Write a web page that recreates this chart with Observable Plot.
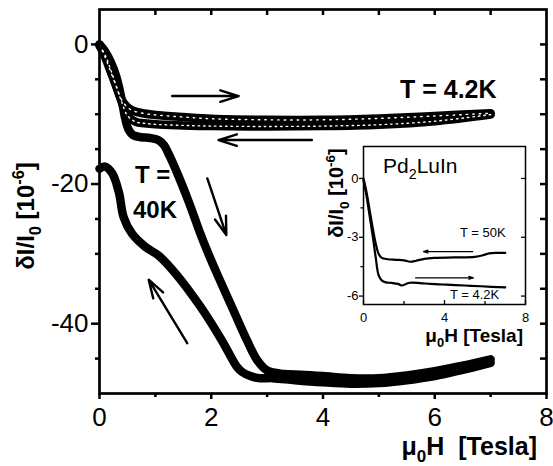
<!DOCTYPE html>
<html><head><meta charset="utf-8">
<script src="https://cdn.jsdelivr.net/npm/d3@7"></script>
<script src="https://cdn.jsdelivr.net/npm/@observablehq/plot@0.6"></script>
<style>
body{margin:0;background:#fff;}
#wrap{position:relative;width:553px;height:466px;overflow:hidden;}
#wrap svg{position:absolute;left:0;top:0;}
</style></head><body><div id="wrap"></div>
<script>
const FONT = "'Liberation Sans', Arial, Helvetica, sans-serif";

// ---- main panel ----
const xTicksMain = [0, 2, 4, 6, 8];
const xMinorMain = [1, 3, 5, 7];
const xTopMain = [1, 2, 3, 4, 5, 6, 7];
const yTicksMain = [0, -20, -40];
const yMinorMain = [-5, -10, -15, -25, -30, -35, -45];
const yRightMain = [0, -5, -10, -15, -20, -25, -30, -35, -40, -45];

// T = 4.2K, increasing field (upper branch)
const x42u = [0, 0.1, 0.2, 0.3, 0.4, 0.5, 0.6, 0.8, 1.0, 1.5, 2, 3, 4, 5, 6, 7];
const y42u = [0, -1.8, -3.9, -6.0, -8.0, -9.0, -9.5, -9.9, -10.1, -10.4, -10.65, -10.8, -10.8, -10.6, -10.25, -9.85];
// T = 4.2K, decreasing field (lower branch)
const x42d = [7, 6, 5, 4, 3, 2, 1.5, 1.0, 0.8, 0.65, 0.5, 0.4, 0.3, 0.2, 0.1, 0];
const y42d = [-10.05, -11.0, -11.5, -11.7, -11.75, -11.7, -11.6, -11.45, -11.3, -11.1, -10.2, -8.3, -6.0, -3.6, -1.5, -0.2];
// T = 40K, increasing field
const x40u = [0, 0.1, 0.2, 0.3, 0.4, 0.46, 0.52, 0.6, 0.75, 0.9, 1.05, 1.15, 1.25, 1.4, 1.6, 1.8, 1.95, 2.1, 2.37, 2.64, 2.82, 3.0, 3.3, 3.6, 4.0, 4.5, 5.0, 5.5, 6.0, 6.5, 7.0];
const y40u = [0, -1.0, -2.5, -4.6, -8.0, -10.6, -12.2, -13.0, -13.3, -13.4, -13.7, -14.4, -15.9, -18.6, -22.6, -27.0, -30.0, -32.8, -37.6, -42.4, -45.2, -46.7, -47.2, -47.3, -47.5, -47.8, -47.8, -47.4, -46.8, -46.0, -45.1];
// T = 40K, decreasing field
const x40d = [7.0, 6.5, 6.0, 5.5, 5.0, 4.5, 4.0, 3.5, 3.1, 2.85, 2.7, 2.55, 2.46, 2.19, 1.81, 1.36, 1.05, 0.82, 0.58, 0.43, 0.35, 0.23, 0.1, 0];
const y40d = [-45.6, -46.6, -47.5, -48.1, -48.5, -48.6, -48.4, -48.1, -47.8, -47.8, -47.5, -46.9, -46.2, -42.4, -37.6, -32.8, -30.2, -29.0, -27.1, -24.7, -21.3, -18.5, -17.5, -17.8];

// sweep-direction arrows (x1, y1 -> x2, y2)
const arrX1 = [1.3, 3.8, 1.93, 1.57];
const arrY1 = [-7.4, -13.7, -19.2, -42.8];
const arrX2 = [2.49, 2.13, 2.27, 0.88];
const arrY2 = [-7.4, -13.7, -27.3, -33.7];

// ---- inset ----
const xTicksIn = [0, 4, 8];
const xMinorIn = [2, 6];
const yTicksIn = [0, -3, -6];
const yMinorIn = [-1.5, -4.5];
const x50 = [0, 0.15, 0.3, 0.45, 0.6, 0.75, 0.9, 1.2, 1.6, 2.0, 2.3, 2.6, 3.0, 3.5, 4.5, 5.5, 5.9, 6.2, 6.6, 7.0];
const y50 = [0, -0.7, -1.6, -2.5, -3.3, -3.85, -4.05, -4.12, -4.15, -4.18, -4.25, -4.2, -4.1, -4.05, -4.03, -4.0, -3.92, -3.82, -3.8, -3.8];
const x4 = [0, 0.15, 0.3, 0.45, 0.6, 0.75, 0.9, 1.1, 1.4, 1.7, 1.9, 2.1, 2.3, 2.8, 3.3, 4.1, 5.0, 5.8, 7.0];
const y4 = [-0.1, -0.9, -1.9, -2.9, -4.0, -4.95, -5.2, -5.3, -5.33, -5.38, -5.46, -5.38, -5.32, -5.34, -5.38, -5.42, -5.46, -5.5, -5.56];
const inArrX1 = [5.4, 2.57];
const inArrY1 = [-3.73, -5.07];
const inArrX2 = [2.96, 5.43];
const inArrY2 = [-3.73, -5.07];

const zip = (xs, ys) => xs.map((x, i) => ({x, y: ys[i]}));
const arrows = (a, b, c, d) => a.map((_, i) => ({x1: a[i], y1: b[i], x2: c[i], y2: d[i]}));

const W = 553, H = 466;
// main geometry
const mL = 99, mR = 7, mT = 9, mB = 73;
const pW = W - mL - mR, pH = H - mT - mB;

const lineOpts = {x: "x", y: "y", curve: "catmull-rom", strokeLinejoin: "round", strokeLinecap: "round", stroke: "#000"};

const main = Plot.plot({
  width: W, height: H,
  marginLeft: mL, marginRight: mR, marginTop: mT, marginBottom: mB,
  x: {domain: [0, 8]},
  y: {domain: [-50, 5]},
  style: {fontFamily: FONT, background: "transparent", color: "#000", overflow: "visible"},
  marks: [
    Plot.line(zip(x40d, y40d), {...lineOpts, strokeWidth: 8.5}),
    Plot.line(zip(x40u, y40u), {...lineOpts, strokeWidth: 8.5}),
    Plot.line(zip(x42u, y42u), {...lineOpts, strokeWidth: 8.5}),
    Plot.line(zip(x42d, y42d), {...lineOpts, strokeWidth: 8.5}),
    Plot.line(zip(x42u, y42u), {...lineOpts, stroke: "#fff", strokeWidth: 1.4, strokeDasharray: "1.5 5"}),
    Plot.line(zip(x42d, y42d), {...lineOpts, stroke: "#fff", strokeWidth: 1.4, strokeDasharray: "1.5 4"}),
    Plot.arrow(arrows(arrX1, arrY1, arrX2, arrY2), {x1: "x1", y1: "y1", x2: "x2", y2: "y2", strokeWidth: 2.4, headLength: 12, headAngle: 35, stroke: "#000"}),
    // ticks
    Plot.tickX(xTicksMain, {x: d => d, insetTop: pH, insetBottom: -6, strokeWidth: 2.5}),
    Plot.tickX(xMinorMain, {x: d => d, insetTop: pH, insetBottom: -4, strokeWidth: 2.5}),
    Plot.tickX(xTopMain, {x: d => d, insetTop: 0, insetBottom: pH - 6, strokeWidth: 2.5}),
    Plot.tickY(yTicksMain, {y: d => d, insetLeft: -8, insetRight: pW, strokeWidth: 2.5}),
    Plot.tickY(yMinorMain, {y: d => d, insetLeft: -4, insetRight: pW, strokeWidth: 2.5}),
    Plot.tickY(yRightMain, {y: d => d, insetLeft: pW - 6, insetRight: 0, strokeWidth: 2.5}),
    Plot.axisX({ticks: xTicksMain, anchor: "bottom", tickSize: 0, tickPadding: 14, fontSize: 26, tickFormat: d => String(d), label: null}),
    Plot.axisY({ticks: yTicksMain, anchor: "left", tickSize: 0, tickPadding: 11, fontSize: 26, tickFormat: d => String(d), label: null}),
    Plot.frame({strokeWidth: 2.7, stroke: "#000"})
  ]
});

// inset geometry
const iL = 363, iR = W - 525, iT = 146, iB = H - 304;
const iW = W - iL - iR, iH = H - iT - iB;

const inset = Plot.plot({
  width: W, height: H,
  marginLeft: iL, marginRight: iR, marginTop: iT, marginBottom: iB,
  x: {domain: [0, 8]},
  y: {domain: [-6.43, 1.63]},
  style: {fontFamily: FONT, background: "transparent", color: "#000", overflow: "visible"},
  marks: [
    Plot.line(zip(x50, y50), {...lineOpts, strokeWidth: 2.2}),
    Plot.line(zip(x4, y4), {...lineOpts, strokeWidth: 2.2}),
    Plot.arrow(arrows(inArrX1, inArrY1, inArrX2, inArrY2), {x1: "x1", y1: "y1", x2: "x2", y2: "y2", strokeWidth: 1.2, headLength: 6, headAngle: 35, stroke: "#000"}),
    Plot.tickX(xTicksIn, {x: d => d, insetTop: iH - 4, insetBottom: 0, strokeWidth: 1.3}),
    Plot.tickX(xMinorIn, {x: d => d, insetTop: iH - 3, insetBottom: 0, strokeWidth: 1.3}),
    Plot.tickY(yTicksIn, {y: d => d, insetLeft: -4, insetRight: iW, strokeWidth: 1.3}),
    Plot.tickY(yMinorIn, {y: d => d, insetLeft: -2.5, insetRight: iW, strokeWidth: 1.3}),
    Plot.tickY(yTicksIn, {y: d => d, insetLeft: iW - 4, insetRight: 0, strokeWidth: 1.3}),
    Plot.axisX({ticks: xTicksIn, anchor: "bottom", tickSize: 0, tickPadding: 8, fontSize: 13, tickFormat: d => String(d), label: null}),
    Plot.axisY({ticks: yTicksIn, anchor: "left", tickSize: 0, tickPadding: 5, fontSize: 13, tickFormat: d => String(d), label: null}),
    Plot.frame({strokeWidth: 1.5, stroke: "#000"})
  ]
});

const wrap = document.getElementById("wrap");
wrap.append(main, inset);

function rich(svg, {x, y, rotate = 0, size, weight = "normal", anchor = "start", parts}) {
  const t = d3.select(svg).append("text")
    .attr("transform", `translate(${x},${y}) rotate(${rotate})`)
    .attr("text-anchor", anchor)
    .attr("font-size", size)
    .attr("font-weight", weight)
    .attr("font-family", FONT)
    .attr("fill", "#000");
  let shift = 0;
  for (const [s, kind] of parts) {
    const target = kind === "sub" ? size * 0.28 : kind === "sup" ? -size * 0.42 : 0;
    const span = t.append("tspan").text(s).attr("dy", target - shift);
    if (kind !== "n") span.attr("font-size", size * 0.68);
    shift = target;
  }
}

// main labels
rich(main, {x: 34, y: 216, rotate: -90, size: 24, weight: "bold", anchor: "middle",
  parts: [["δI/I", "n"], ["0", "sub"], [" [10", "n"], ["-6", "sup"], ["]", "n"]]});
rich(main, {x: 537, y: 455, size: 25, weight: "bold", anchor: "end",
  parts: [["μ", "n"], ["0", "sub"], ["H\u00a0\u00a0[Tesla]", "n"]]});
rich(main, {x: 400, y: 98, size: 25, weight: "bold", parts: [["T = 4.2K", "n"]]});
rich(main, {x: 135, y: 183, size: 24, weight: "bold", parts: [["T =", "n"]]});
rich(main, {x: 133, y: 218, size: 24, weight: "bold", parts: [["40K", "n"]]});

// inset labels
rich(inset, {x: 343, y: 193, rotate: -90, size: 20, weight: "bold", anchor: "middle",
  parts: [["δI/I", "n"], ["0", "sub"], [" [10", "n"], ["-6", "sup"], ["]", "n"]]});
rich(inset, {x: 523, y: 342, size: 19, weight: "bold", anchor: "end",
  parts: [["μ", "n"], ["0", "sub"], ["H [Tesla]", "n"]]});
rich(inset, {x: 383, y: 173, size: 21, parts: [["Pd", "n"], ["2", "sub"], ["LuIn", "n"]]});
rich(inset, {x: 460, y: 237, size: 13, parts: [["T = 50K", "n"]]});
rich(inset, {x: 450, y: 299, size: 13, parts: [["T = 4.2K", "n"]]});
</script>
</body></html>
